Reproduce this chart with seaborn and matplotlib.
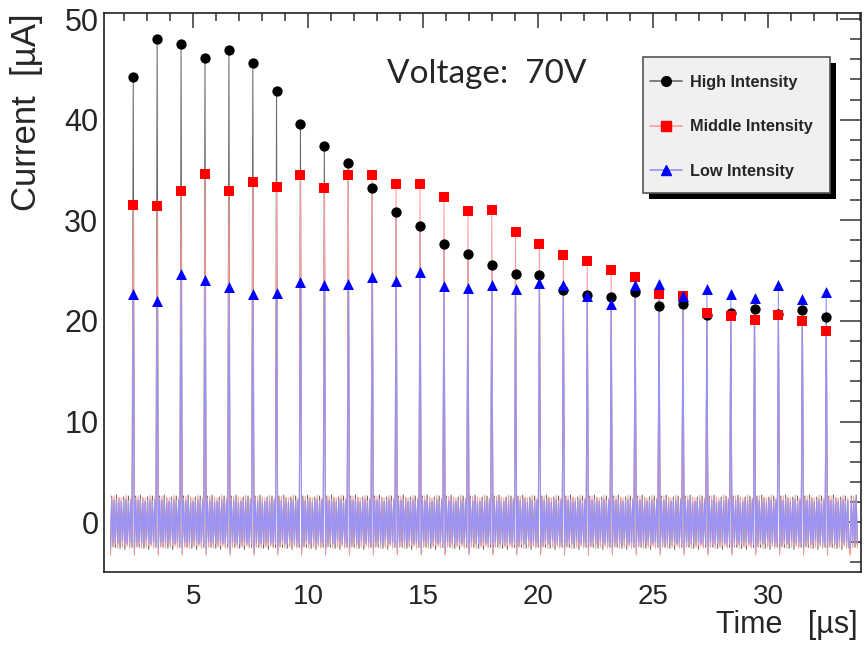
import numpy as np
import pandas as pd
import matplotlib
matplotlib.use('Agg')
import matplotlib.pyplot as plt
from matplotlib.lines import Line2D
from matplotlib.patches import Rectangle
from matplotlib.ticker import MultipleLocator
import seaborn as sns

# pulse times [us]
pulse_times = [2.39, 3.43, 4.47, 5.51, 6.55, 7.59, 8.62, 9.66, 10.70, 11.74,
               12.78, 13.82, 14.86, 15.90, 16.94, 17.98, 19.01, 20.05, 21.09, 22.13,
               23.17, 24.21, 25.25, 26.29, 27.33, 28.37, 29.40, 30.44, 31.48, 32.52]

# peak currents [uA]
high_peaks = [44.2, 48.0, 47.5, 46.1, 46.9, 45.6, 42.8, 39.6, 37.4, 35.7,
              33.2, 30.8, 29.4, 27.6, 26.7, 25.6, 24.7, 24.6, 23.1, 22.6,
              22.4, 22.9, 21.5, 21.7, 20.6, 20.8, 21.2, 20.7, 21.1, 20.4]
mid_peaks = [31.5, 31.4, 32.9, 34.6, 32.9, 33.8, 33.3, 34.5, 33.2, 34.5,
             34.5, 33.6, 33.6, 32.3, 30.9, 31.0, 28.8, 27.6, 26.6, 26.0,
             25.1, 24.4, 22.7, 22.5, 20.8, 20.5, 20.1, 20.6, 20.0, 19.0]
low_peaks = [22.7, 22.0, 24.7, 24.1, 23.4, 22.7, 22.8, 23.9, 23.6, 23.7,
             24.4, 24.0, 24.9, 23.5, 23.3, 23.6, 23.2, 23.8, 23.6, 22.5,
             21.7, 23.6, 23.7, 22.5, 23.2, 22.7, 22.3, 23.6, 22.2, 22.9]

# ringing between pulses (one period, estimated from the noise band)
high_ring = [-3.1, 2.6, -2.4, 2.2, -2.5, 2.7, -2.2, 2.4, -2.6, 2.1,
             -2.3, 2.5, -2.7, 2.3, -2.1, 2.6, -2.4, 2.2, -2.5]
mid_ring = [-3.3, 2.4, -2.5, 2.6, -2.2, 2.3, -2.6, 2.5, -2.1, 2.4,
            -2.5, 2.2, -2.3, 2.7, -2.4, 2.1, -2.6, 2.4, -2.2]
low_ring = [-2.6, 2.2, -2.0, 2.1, -1.9, 2.3, -2.1, 1.9, -2.2, 2.0,
            -1.8, 2.2, -2.0, 2.1, -2.2, 1.9, -2.0, 2.2, -2.1]

labels = ['High Intensity', 'Middle Intensity', 'Low Intensity']
trace_colors = ['#6a6a6a', '#ff9c9c', '#9393ff']
marker_colors = ['black', '#ff0000', '#0000ff']
markers = ['o', 's', '^']
marker_sizes = [55, 62, 62]


def build_trace(peaks, ring, dt=0.052, t_end=33.9):
    """waveform: ringing before first pulse, then pulse + ringing for each pulse"""
    t, v = [], []
    start = pulse_times[0] - dt * (len(ring) + 1)
    for j, r in enumerate(ring):
        t.append(start + dt * (j + 1))
        v.append(r)
    for tp, pk in zip(pulse_times, peaks):
        t.append(tp)
        v.append(pk)
        for j, r in enumerate(ring):
            t.append(tp + dt * (j + 1))
            v.append(r)
    last = t[-1]
    for j, r in enumerate(ring):
        tt = last + dt * (j + 1)
        if tt > t_end:
            break
        t.append(tt)
        v.append(r)
    return pd.DataFrame({'t': t, 'i': v})


sns.set_style('white')
plt.rcParams['font.family'] = ['Liberation Sans', 'DejaVu Sans']

fig = plt.figure(figsize=(8.67, 6.45), dpi=100)
ax = fig.add_axes([104 / 867, 1 - 572 / 645, 757 / 867, 559 / 645])

for peaks, ring, col in zip([high_peaks, mid_peaks, low_peaks],
                            [high_ring, mid_ring, low_ring], trace_colors):
    df = build_trace(peaks, ring)
    sns.lineplot(data=df, x='t', y='i', ax=ax, color=col, lw=0.75,
                 sort=False, estimator=None, legend=False)

for peaks, mc, mk, ms in zip([high_peaks, mid_peaks, low_peaks],
                             marker_colors, markers, marker_sizes):
    pts = pd.DataFrame({'t': pulse_times, 'i': peaks})
    sns.scatterplot(data=pts, x='t', y='i', ax=ax, color=mc, marker=mk,
                    s=ms, edgecolor=mc, linewidth=0, zorder=3, legend=False)

ax.set_xlim(1.12, 34.03)
ax.set_ylim(-4.95, 50.6)
ax.xaxis.set_major_locator(MultipleLocator(5))
ax.xaxis.set_minor_locator(MultipleLocator(1))
ax.yaxis.set_major_locator(MultipleLocator(10))
ax.yaxis.set_minor_locator(MultipleLocator(2))
ax.tick_params(which='both', direction='in', top=True, right=True,
               color='#333333', width=1.1)
ax.tick_params(axis='x', which='major', length=11, labelsize=20, pad=9)
ax.tick_params(axis='x', which='minor', length=5.5)
ax.tick_params(axis='y', which='major', length=15, labelsize=22, pad=4)
ax.tick_params(axis='y', which='minor', length=8)
for sp in ax.spines.values():
    sp.set_color('#222222')
    sp.set_linewidth(1.2)

ax.set_xlabel('Time   [µs]', fontsize=22, loc='right')
ax.set_ylabel('Current  [µA]', fontsize=25, loc='top')
ax.xaxis.set_label_coords(0.996, -0.068)
ax.yaxis.set_label_coords(-0.08, 0.999)

ax.text(0.374, 0.891, 'Voltage:  70V', transform=ax.transAxes, fontsize=24,
        family='Lato', va='center', ha='left')

# legend box with a solid shadow
x0, x1, y0, y1 = 0.712, 0.959, 0.678, 0.921
ax.add_patch(Rectangle((x0 + 0.008, y0 - 0.011), x1 - x0, y1 - y0,
                       transform=ax.transAxes, facecolor='black',
                       edgecolor='none', zorder=6, clip_on=False))
ax.add_patch(Rectangle((x0, y0), x1 - x0, y1 - y0, transform=ax.transAxes,
                       facecolor='#f0f0f0', edgecolor='#555555', lw=1.2,
                       zorder=7, clip_on=False))
handles = [Line2D([], [], color=tc, lw=1.2, marker=mk, markersize=7,
                  markerfacecolor=mc, markeredgecolor=mc)
           for tc, mc, mk in zip(trace_colors, marker_colors, markers)]
leg = ax.legend(handles, labels, loc='upper left',
                bbox_to_anchor=(x0 - 6 / 757, y1 - 5 / 559),
                frameon=False, borderaxespad=0, borderpad=0.8,
                handlelength=2.0, handletextpad=0.45, labelspacing=1.8,
                prop={'weight': 'bold', 'size': 11.7})
leg.set_zorder(8)

fig.savefig('out.png', dpi=100)
